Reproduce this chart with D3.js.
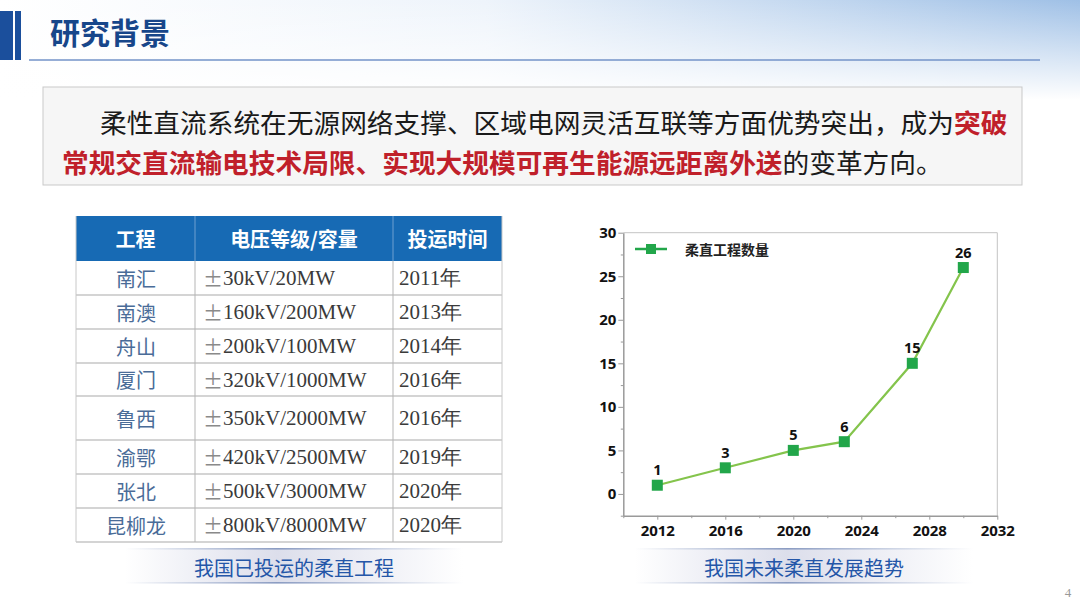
<!DOCTYPE html>
<html>
<meta charset="utf-8" />
<head>
<script src="https://cdnjs.cloudflare.com/ajax/libs/d3/7.8.5/d3.min.js"></script>
<style>
  html, body { margin: 0; padding: 0; background: #fff; }
  svg { display: block; }
</style>
</head>
<body>
<script>
// chart data
const years = [2012, 2016, 2020, 2023, 2027, 2030];
const counts = [1, 3, 5, 6, 15, 26];
const xTicks = [2012, 2016, 2020, 2024, 2028, 2032];
const yTicks = [0, 5, 10, 15, 20, 25, 30];
const seriesName = "柔直工程数量";

// table data
const tableHeader = ["工程", "电压等级/容量", "投运时间"];
const projects = ["南汇", "南澳", "舟山", "厦门", "鲁西", "渝鄂", "张北", "昆柳龙"];
const ratings = ["30kV/20MW", "160kV/200MW", "200kV/100MW", "320kV/1000MW",
                 "350kV/2000MW", "420kV/2500MW", "500kV/3000MW", "800kV/8000MW"];
const startYears = ["2011年", "2013年", "2014年", "2016年", "2016年", "2019年", "2020年", "2020年"];

const cjk = "'Noto Sans CJK SC', 'Noto Sans', sans-serif";

const svg = d3.select("body").append("svg")
    .attr("width", 1080)
    .attr("height", 608);

const defs = svg.append("defs");

// sky at the top
const sky = defs.append("linearGradient").attr("id", "sky")
    .attr("x1", 0).attr("y1", 0).attr("x2", 1).attr("y2", 0);
sky.append("stop").attr("offset", "0%").attr("stop-color", "#ffffff");
sky.append("stop").attr("offset", "45%").attr("stop-color", "#eef4fb");
sky.append("stop").attr("offset", "100%").attr("stop-color", "#9fc0e6");
const skyFade = defs.append("linearGradient").attr("id", "skyFade")
    .attr("x1", 0).attr("y1", 0).attr("x2", 0).attr("y2", 1);
skyFade.append("stop").attr("offset", "0%").attr("stop-color", "#fff").attr("stop-opacity", 0);
skyFade.append("stop").attr("offset", "100%").attr("stop-color", "#fff").attr("stop-opacity", 1);

svg.append("rect").attr("width", 1080).attr("height", 100).attr("fill", "url(#sky)");
svg.append("rect").attr("width", 1080).attr("height", 100).attr("fill", "url(#skyFade)");

// title block
svg.append("rect").attr("x", 0).attr("y", 11).attr("width", 13).attr("height", 49).attr("fill", "#1b4f9c");
svg.append("rect").attr("x", 15).attr("y", 11).attr("width", 6).attr("height", 49).attr("fill", "#1b4f9c");
svg.append("text")
    .attr("x", 50).attr("y", 44)
    .attr("font-family", cjk).attr("font-weight", "bold").attr("font-size", 30)
    .attr("fill", "#17468a")
    .text("研究背景");
svg.append("line")
    .attr("x1", 29).attr("x2", 1040).attr("y1", 60).attr("y2", 60)
    .attr("stroke", "#7393c8").attr("stroke-width", 1.5);

// intro box
svg.append("rect")
    .attr("x", 43).attr("y", 87).attr("width", 979).attr("height", 98)
    .attr("fill", "#f6f6f6").attr("stroke", "#c9c9c9");
const para = svg.append("g")
    .attr("font-family", cjk).attr("font-size", 26.7).attr("fill", "#1a1a1a");
const l1 = para.append("text").attr("x", 100).attr("y", 121).attr("dominant-baseline", "central");
l1.append("tspan").text("柔性直流系统在无源网络支撑、区域电网灵活互联等方面优势突出，成为");
l1.append("tspan").attr("fill", "#c0202a").attr("font-weight", "bold").text("突破");
const l2 = para.append("text").attr("x", 62).attr("y", 161).attr("dominant-baseline", "central");
l2.append("tspan").attr("fill", "#c0202a").attr("font-weight", "bold")
    .text("常规交直流输电技术局限、实现大规模可再生能源远距离外送");
l2.append("tspan").text("的变革方向。");

// ---------- table ----------
const colX = [76, 195, 393, 502];
const headTop = 216, headH = 45;
const rowH = [34, 34, 34, 33, 44, 34, 34, 34];
const rowTop = rowH.reduce((a, h) => { a.push(a[a.length - 1] + h); return a; }, [headTop + headH]);

const table = svg.append("g");
table.append("rect")
    .attr("x", colX[0]).attr("y", headTop)
    .attr("width", colX[3] - colX[0]).attr("height", headH)
    .attr("fill", "#176ab4");
table.append("rect")
    .attr("x", colX[0]).attr("y", headTop + headH)
    .attr("width", colX[3] - colX[0]).attr("height", rowTop[rowH.length] - headTop - headH)
    .attr("fill", "#fff");

table.selectAll("text.head")
    .data(tableHeader)
    .join("text")
    .attr("class", "head")
    .attr("x", (d, i) => (colX[i] + colX[i + 1]) / 2)
    .attr("y", headTop + headH / 2)
    .attr("dominant-baseline", "central")
    .attr("text-anchor", "middle")
    .attr("font-family", cjk).attr("font-weight", "bold").attr("font-size", 20)
    .attr("fill", "#fff")
    .text(d => d);

// row lines
table.selectAll("line.row")
    .data(rowTop.slice(1))
    .join("line")
    .attr("x1", colX[0]).attr("x2", colX[3])
    .attr("y1", d => d).attr("y2", d => d)
    .attr("stroke", "#d4d4d4").attr("stroke-width", 2);
table.selectAll("line.col")
    .data(colX)
    .join("line")
    .attr("x1", d => d).attr("x2", d => d)
    .attr("y1", (d, i) => (i === 0 || i === 3) ? headTop : headTop + headH)
    .attr("y2", rowTop[rowH.length])
    .attr("stroke", (d, i) => (i === 0 || i === 3) ? "#c8c8c8" : "#b5b5b5").attr("stroke-width", 1);
table.selectAll("line.colh")
    .data(colX.slice(1, 3))
    .join("line")
    .attr("x1", d => d).attr("x2", d => d)
    .attr("y1", headTop).attr("y2", headTop + headH)
    .attr("stroke", "#6f9fd0");

const rows = table.selectAll("g.r")
    .data(projects)
    .join("g")
    .attr("transform", (d, i) => `translate(0,${rowTop[i] + rowH[i] / 2})`);
rows.append("text")
    .attr("x", 136).attr("dominant-baseline", "central").attr("text-anchor", "middle")
    .attr("font-family", cjk).attr("font-size", 20).attr("fill", "#4a6c98")
    .text(d => d);
const rt = rows.append("text")
    .attr("x", 203).attr("dominant-baseline", "central")
    .attr("font-family", "'Liberation Serif', serif").attr("font-size", 21).attr("fill", "#3a3a3a");
rt.append("tspan").attr("fill", "#8a8a8a").attr("font-family", cjk).attr("font-size", 20).text("±");
rt.append("tspan").text((d, i) => ratings[i]);
rows.append("text")
    .attr("x", 399).attr("dominant-baseline", "central")
    .attr("font-family", "'Liberation Serif', serif").attr("font-size", 21).attr("fill", "#3a3a3a")
    .text((d, i) => startYears[i]);

// ---------- caption bands ----------
const band = defs.append("linearGradient").attr("id", "band")
    .attr("x1", 0).attr("y1", 0).attr("x2", 1).attr("y2", 0);
band.append("stop").attr("offset", "0%").attr("stop-color", "#ffffff");
band.append("stop").attr("offset", "45%").attr("stop-color", "#dcdeeb");
band.append("stop").attr("offset", "100%").attr("stop-color", "#ffffff");
const bandEdge = defs.append("linearGradient").attr("id", "bandEdge")
    .attr("x1", 0).attr("y1", 0).attr("x2", 1).attr("y2", 0);
bandEdge.append("stop").attr("offset", "0%").attr("stop-color", "#ffffff");
bandEdge.append("stop").attr("offset", "45%").attr("stop-color", "#8b9cc2");
bandEdge.append("stop").attr("offset", "100%").attr("stop-color", "#ffffff");

function caption(x0, x1, label) {
    const g = svg.append("g");
    g.append("rect").attr("x", x0).attr("y", 549).attr("width", x1 - x0).attr("height", 34)
        .attr("fill", "url(#band)");
    [549, 583].forEach(y => g.append("rect")
        .attr("x", x0).attr("y", y - 1).attr("width", x1 - x0).attr("height", 1.6)
        .attr("fill", "url(#bandEdge)"));
    g.append("text")
        .attr("x", (x0 + x1) / 2).attr("y", 567)
        .attr("dominant-baseline", "central").attr("text-anchor", "middle")
        .attr("font-family", cjk).attr("font-size", 20).attr("fill", "#2456a8")
        .text(label);
}
caption(125, 463, "我国已投运的柔直工程");
caption(635, 973, "我国未来柔直发展趋势");

// ---------- line chart ----------
const x = d3.scaleLinear().domain([2010, 2032]).range([623.3, 997.3]);
const y = d3.scaleLinear().domain([-2.5, 30]).range([515.7, 232.7]);
const num = "'Open Sans', 'Noto Sans', sans-serif";

const chart = svg.append("g");

// frame top/right
chart.append("path")
    .attr("d", `M${x(2010)},${y(30)}H${x(2032)}V${y(-2.5)}`)
    .attr("fill", "none").attr("stroke", "#c4c4c4");

// minor ticks
chart.append("g")
    .attr("transform", `translate(${x(2010)},0)`)
    .call(d3.axisLeft(y).tickValues(d3.range(-2.5, 30, 5)).tickSize(2.5).tickFormat(""))
    .call(g => g.select(".domain").remove())
    .selectAll("line").attr("stroke", "#999");
chart.append("g")
    .attr("transform", `translate(0,${y(-2.5)})`)
    .call(d3.axisBottom(x).tickValues(d3.range(2010, 2032, 4)).tickSize(2.5).tickFormat(""))
    .call(g => g.select(".domain").remove())
    .selectAll("line").attr("stroke", "#999");

const yAxis = chart.append("g")
    .attr("transform", `translate(${x(2010)},0)`)
    .call(d3.axisLeft(y).tickValues(yTicks).tickSize(5).tickPadding(2).tickSizeOuter(0));
const xAxis = chart.append("g")
    .attr("transform", `translate(0,${y(-2.5)})`)
    .call(d3.axisBottom(x).tickValues(xTicks).tickFormat(d3.format("d")).tickSize(4).tickPadding(6).tickSizeOuter(0));
[yAxis, xAxis].forEach(a => {
    a.select(".domain").attr("stroke", "#9a9a9a").attr("stroke-width", 1.5);
    a.selectAll(".tick line").attr("stroke", "#999");
    a.selectAll("text")
        .attr("font-family", num).attr("font-weight", "bold").attr("font-size", 15)
        .attr("fill", "#111");
});

const pts = years.map((yr, i) => ({ yr, v: counts[i] }));

chart.append("path")
    .datum(pts)
    .attr("d", d3.line().x(d => x(d.yr)).y(d => y(d.v)))
    .attr("fill", "none").attr("stroke", "#84c44c").attr("stroke-width", 2.2);

chart.selectAll("rect.m")
    .data(pts)
    .join("rect")
    .attr("class", "m")
    .attr("x", d => x(d.yr) - 5.5).attr("y", d => y(d.v) - 5.5)
    .attr("width", 11).attr("height", 11)
    .attr("fill", "#22a64a");

chart.selectAll("text.lbl")
    .data(pts)
    .join("text")
    .attr("class", "lbl")
    .attr("x", d => x(d.yr)).attr("y", d => y(d.v) - 10)
    .attr("text-anchor", "middle")
    .attr("font-family", num).attr("font-weight", "bold").attr("font-size", 14.5)
    .attr("fill", "#111")
    .text(d => d.v);

// legend
const leg = chart.append("g").attr("transform", "translate(635,249)");
leg.append("line").attr("x1", 0).attr("x2", 32).attr("stroke", "#22a64a").attr("stroke-width", 2.5);
leg.append("rect").attr("x", 11).attr("y", -5).attr("width", 10).attr("height", 10).attr("fill", "#22a64a");
leg.append("text")
    .attr("x", 50).attr("dominant-baseline", "central")
    .attr("font-family", cjk).attr("font-weight", "bold").attr("font-size", 14)
    .attr("fill", "#222")
    .text(seriesName);

// page number
svg.append("text")
    .attr("x", 1068).attr("y", 597).attr("text-anchor", "middle")
    .attr("font-family", "'Liberation Serif', serif").attr("font-size", 13).attr("fill", "#999")
    .text("4");
</script>
</body>
</html>
